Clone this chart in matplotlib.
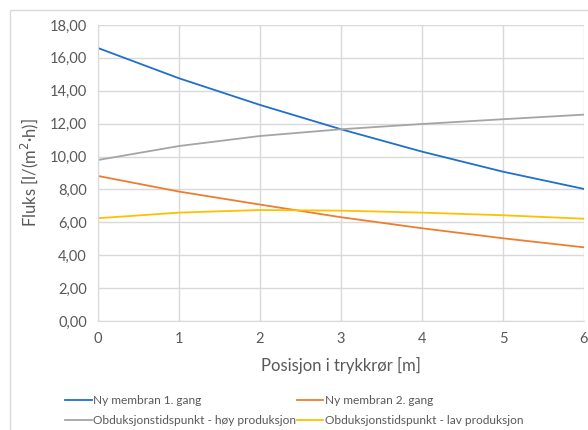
import matplotlib.pyplot as plt
from matplotlib.patches import Rectangle
from matplotlib.ticker import FuncFormatter

posisjon = [0, 1, 2, 3, 4, 5, 6]
ny_1_gang = [16.60, 14.76, 13.14, 11.66, 10.30, 9.08, 8.03]
ny_2_gang = [8.82, 7.87, 7.08, 6.31, 5.64, 5.03, 4.48]
obd_hoy = [9.79, 10.64, 11.25, 11.66, 11.98, 12.27, 12.55]
obd_lav = [6.25, 6.59, 6.75, 6.71, 6.59, 6.43, 6.22]

plt.rcParams['font.family'] = ['Lato', 'DejaVu Sans']

fig = plt.figure(figsize=(5.88, 4.30), dpi=100)
fig.patches.append(Rectangle((10 / 588, -0.1), 1.2, 1 - 10 / 430 + 0.1,
                             transform=fig.transFigure, fill=False,
                             edgecolor='#d9d9d9', lw=1))
ax = fig.add_axes([98 / 588, 1 - 321 / 430, 486 / 588, 296 / 430])

l1, = ax.plot(posisjon, ny_1_gang, color='#1f6fcc', lw=1.3, label='Ny membran 1. gang')
l2, = ax.plot(posisjon, ny_2_gang, color='#ed7d31', lw=1.3, label='Ny membran 2. gang')
l3, = ax.plot(posisjon, obd_hoy, color='#a5a5a5', lw=1.3, label='Obduksjonstidspunkt - høy produksjon')
l4, = ax.plot(posisjon, obd_lav, color='#ffc000', lw=1.3, label='Obduksjonstidspunkt - lav produksjon')

ax.set_xlim(0, 6)
ax.set_ylim(0, 18)
ax.set_yticks(range(0, 19, 2))
ax.yaxis.set_major_formatter(FuncFormatter(lambda v, p: f'{v:.2f}'.replace('.', ',')))
ax.grid(True, color='#d9d9d9', lw=1)
ax.set_axisbelow(True)
for s in ['top', 'right']:
    ax.spines[s].set_visible(False)
for s in ['left', 'bottom']:
    ax.spines[s].set_color('#d9d9d9')
ax.tick_params(length=0, labelsize=10.5, colors='#595959', pad=8)
ax.set_xlabel('Posisjon i trykkrør [m]', fontsize=12, color='#595959', labelpad=8)
ax.set_ylabel('Fluks [l/(m$^2$·h)]', fontsize=12, color='#595959', labelpad=6)

handles = [l1, l3, l2, l4]
leg = ax.legend(handles, [h.get_label() for h in handles], loc='upper left',
                bbox_to_anchor=(-0.089, -0.215), ncol=2, frameon=False,
                fontsize=8.6, handlelength=2.2, handletextpad=0.1, columnspacing=0.1,
                labelspacing=0.75)
for t in leg.get_texts():
    t.set_color('#595959')

fig.savefig('out.png', dpi=100)
